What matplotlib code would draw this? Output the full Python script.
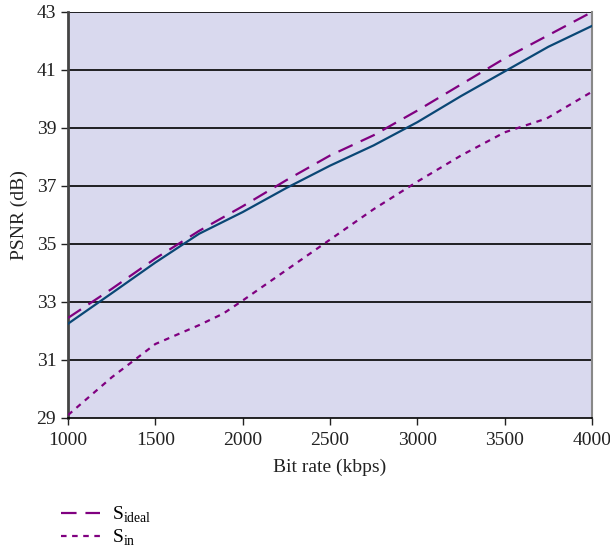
import matplotlib
matplotlib.use("Agg")
import matplotlib.pyplot as plt

plt.rcParams['font.family'] = ['Liberation Serif', 'DejaVu Serif']
plt.rcParams['mathtext.fontset'] = 'custom'
plt.rcParams['mathtext.rm'] = 'Liberation Serif'

# bit rate (kbps)
bitrate = [1000, 1250, 1500, 1750, 2000, 2250, 2500, 2750, 3000, 3250, 3500, 3750, 4000]
# solid curve (no legend entry in the reference)
psnr_out = [32.25, 33.3, 34.36, 35.35, 36.1, 36.93, 37.7, 38.4, 39.2, 40.1, 40.95, 41.8, 42.52]
psnr_ideal = [32.45, 33.45, 34.5, 35.45, 36.3, 37.2, 38.05, 38.75, 39.6, 40.5, 41.4, 42.2, 43.0]
# dotted curve has a knee near 1890 and 3740 kbps
in_rate = [1000, 1250, 1500, 1750, 1889, 2000, 2250, 2500, 2750, 3000, 3250, 3500, 3741, 4000]
psnr_in = [29.1, 30.4, 31.55, 32.2, 32.6, 33.05, 34.1, 35.15, 36.2, 37.15, 38.05, 38.85, 39.33, 40.25]

yticks = list(range(29, 44, 2))
xticks = [1000, 1500, 2000, 2500, 3000, 3500, 4000]

fig = plt.figure(figsize=(6.1, 5.52), dpi=100)
ax = fig.add_axes([0.1115, 0.2428, 0.8590, 0.7355])
ax.set_facecolor('#d9d9ee')

for y in yticks[1:]:
    ax.axhline(y, color='black', lw=1.2, zorder=1)

ax.plot(bitrate, psnr_out, color='#0a4775', lw=1.6, zorder=3)
l1, = ax.plot(bitrate, psnr_ideal, color='#800080', lw=1.6,
              dashes=(7, 4), zorder=3)
l2, = ax.plot(in_rate, psnr_in, color='#800080', lw=1.6,
              dashes=(2.5, 2.5), zorder=3)

ax.set_xlim(1000, 4000)
ax.set_ylim(29, 43)
ax.set_xticks(xticks)
ax.set_yticks(yticks)
ax.tick_params(labelsize=14, direction='out', length=5, width=1, colors='#222222')
ax.tick_params(axis='x', pad=5)

ax.spines['left'].set_color('#444444')
ax.spines['left'].set_linewidth(2)
ax.spines['bottom'].set_color('black')
ax.spines['bottom'].set_linewidth(1.2)
ax.spines['right'].set_color('#888888')
ax.spines['right'].set_linewidth(1.5)
ax.spines['top'].set_visible(False)

ax.set_xlabel('Bit rate (kbps)', fontsize=14, color='#222222', labelpad=7)
ax.set_ylabel('PSNR (dB)', fontsize=14, color='#222222', labelpad=6)

fig.legend([l1, l2], [r'S$_\mathregular{ideal}$', r'S$_\mathregular{in}$'],
           loc='upper left', bbox_to_anchor=(0.1, 0.085), frameon=False,
           fontsize=14, handlelength=2.0, handletextpad=0.6, labelspacing=0.1,
           borderaxespad=0, borderpad=0)

fig.savefig('out.png', dpi=100)
